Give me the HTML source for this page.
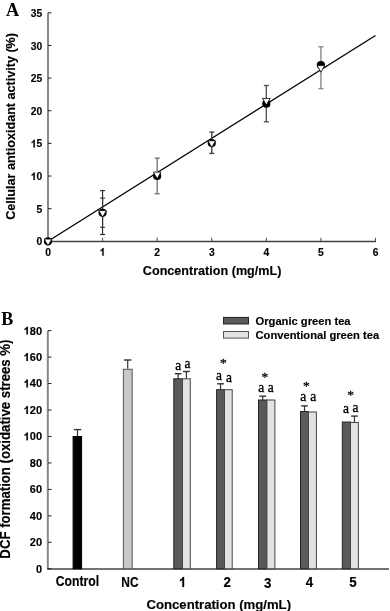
<!DOCTYPE html>
<html><head><meta charset="utf-8"><style>
html,body{margin:0;padding:0;background:#fff;}
body{width:390px;height:611px;overflow:hidden;}
svg{display:block;will-change:transform;}
</style></head><body>
<svg width="390" height="611" viewBox="0 0 390 611">
<rect width="390" height="611" fill="#fff"/>
<text x="5.9" y="15.7" font-family="Liberation Serif" font-size="18.2" font-weight="bold" text-anchor="start" >A</text>
<line x1="48" y1="12.82" x2="48" y2="241.3" stroke="#888" stroke-width="2"/>
<line x1="47" y1="241.5" x2="376.0" y2="241.5" stroke="#444" stroke-width="1.4"/>
<line x1="48" y1="241.30" x2="51.5" y2="241.30" stroke="#222" stroke-width="1"/>
<text transform="translate(36.57,245.40) scale(1.0,1.04)" font-family="Liberation Sans" font-size="10.3" font-weight="bold" stroke="#000" stroke-width="0.15">0</text>
<line x1="48" y1="208.66" x2="51.5" y2="208.66" stroke="#222" stroke-width="1"/>
<text transform="translate(36.57,212.76) scale(1.0,1.04)" font-family="Liberation Sans" font-size="10.3" font-weight="bold" stroke="#000" stroke-width="0.15">5</text>
<line x1="48" y1="176.02" x2="51.5" y2="176.02" stroke="#222" stroke-width="1"/>
<path transform="translate(30.84,180.12) scale(0.00503,-0.00523)" d="M787 0L512 0L512 1036C412 942 294 872 156 828L156 1077C229 1101 307 1146 391 1212C475 1278 532 1363 562 1466L787 1466Z" stroke="#000" stroke-width="29.8"/>
<text transform="translate(36.57,180.12) scale(1.0,1.04)" font-family="Liberation Sans" font-size="10.3" font-weight="bold" stroke="#000" stroke-width="0.15">0</text>
<line x1="48" y1="143.38" x2="51.5" y2="143.38" stroke="#222" stroke-width="1"/>
<path transform="translate(30.84,147.48) scale(0.00503,-0.00523)" d="M787 0L512 0L512 1036C412 942 294 872 156 828L156 1077C229 1101 307 1146 391 1212C475 1278 532 1363 562 1466L787 1466Z" stroke="#000" stroke-width="29.8"/>
<text transform="translate(36.57,147.48) scale(1.0,1.04)" font-family="Liberation Sans" font-size="10.3" font-weight="bold" stroke="#000" stroke-width="0.15">5</text>
<line x1="48" y1="110.74" x2="51.5" y2="110.74" stroke="#222" stroke-width="1"/>
<text transform="translate(30.84,114.84) scale(1.0,1.04)" font-family="Liberation Sans" font-size="10.3" font-weight="bold" stroke="#000" stroke-width="0.15">2</text>
<text transform="translate(36.57,114.84) scale(1.0,1.04)" font-family="Liberation Sans" font-size="10.3" font-weight="bold" stroke="#000" stroke-width="0.15">0</text>
<line x1="48" y1="78.10" x2="51.5" y2="78.10" stroke="#222" stroke-width="1"/>
<text transform="translate(30.84,82.20) scale(1.0,1.04)" font-family="Liberation Sans" font-size="10.3" font-weight="bold" stroke="#000" stroke-width="0.15">2</text>
<text transform="translate(36.57,82.20) scale(1.0,1.04)" font-family="Liberation Sans" font-size="10.3" font-weight="bold" stroke="#000" stroke-width="0.15">5</text>
<line x1="48" y1="45.46" x2="51.5" y2="45.46" stroke="#222" stroke-width="1"/>
<text transform="translate(30.84,49.56) scale(1.0,1.04)" font-family="Liberation Sans" font-size="10.3" font-weight="bold" stroke="#000" stroke-width="0.15">3</text>
<text transform="translate(36.57,49.56) scale(1.0,1.04)" font-family="Liberation Sans" font-size="10.3" font-weight="bold" stroke="#000" stroke-width="0.15">0</text>
<line x1="48" y1="12.82" x2="51.5" y2="12.82" stroke="#222" stroke-width="1"/>
<text transform="translate(30.84,16.92) scale(1.0,1.04)" font-family="Liberation Sans" font-size="10.3" font-weight="bold" stroke="#000" stroke-width="0.15">3</text>
<text transform="translate(36.57,16.92) scale(1.0,1.04)" font-family="Liberation Sans" font-size="10.3" font-weight="bold" stroke="#000" stroke-width="0.15">5</text>
<line x1="48.00" y1="241" x2="48.00" y2="237.8" stroke="#555" stroke-width="1.1"/>
<text transform="translate(45.14,255.7) scale(1.0,1.04)" font-family="Liberation Sans" font-size="10.3" font-weight="bold" stroke="#000" stroke-width="0.15">0</text>
<line x1="102.58" y1="241" x2="102.58" y2="237.8" stroke="#555" stroke-width="1.1"/>
<path transform="translate(99.72,255.7) scale(0.00503,-0.00523)" d="M787 0L512 0L512 1036C412 942 294 872 156 828L156 1077C229 1101 307 1146 391 1212C475 1278 532 1363 562 1466L787 1466Z" stroke="#000" stroke-width="29.8"/>
<line x1="157.17" y1="241" x2="157.17" y2="237.8" stroke="#555" stroke-width="1.1"/>
<text transform="translate(154.30,255.7) scale(1.0,1.04)" font-family="Liberation Sans" font-size="10.3" font-weight="bold" stroke="#000" stroke-width="0.15">2</text>
<line x1="211.75" y1="241" x2="211.75" y2="237.8" stroke="#555" stroke-width="1.1"/>
<text transform="translate(208.89,255.7) scale(1.0,1.04)" font-family="Liberation Sans" font-size="10.3" font-weight="bold" stroke="#000" stroke-width="0.15">3</text>
<line x1="266.33" y1="241" x2="266.33" y2="237.8" stroke="#555" stroke-width="1.1"/>
<text transform="translate(263.47,255.7) scale(1.0,1.04)" font-family="Liberation Sans" font-size="10.3" font-weight="bold" stroke="#000" stroke-width="0.15">4</text>
<line x1="320.92" y1="241" x2="320.92" y2="237.8" stroke="#555" stroke-width="1.1"/>
<text transform="translate(318.05,255.7) scale(1.0,1.04)" font-family="Liberation Sans" font-size="10.3" font-weight="bold" stroke="#000" stroke-width="0.15">5</text>
<line x1="375.50" y1="241" x2="375.50" y2="237.8" stroke="#555" stroke-width="1.1"/>
<text transform="translate(372.64,255.7) scale(1.0,1.04)" font-family="Liberation Sans" font-size="10.3" font-weight="bold" stroke="#000" stroke-width="0.15">6</text>
<text transform="translate(212.1,275.1) scale(1.0,1.04)" font-family="Liberation Sans" font-size="12.6" font-weight="bold" text-anchor="middle" stroke="#000" stroke-width="0.15">Concentration (mg/mL)</text>
<text transform="translate(14.6,126.4) rotate(-90) scale(1.0,1.04)" font-family="Liberation Sans" font-size="12.6" font-weight="bold" text-anchor="middle" stroke="#000" stroke-width="0.15">Cellular antioxidant activity (%)</text>
<line x1="48" y1="241.3" x2="375.5" y2="35.5" stroke="#000" stroke-width="1.3"/>
<line x1="102.58" y1="190.6" x2="102.58" y2="234.5" stroke="#222" stroke-width="1.1"/>
<line x1="100.08" y1="190.6" x2="105.08" y2="190.6" stroke="#222" stroke-width="1.1"/>
<line x1="100.08" y1="234.5" x2="105.08" y2="234.5" stroke="#222" stroke-width="1.1"/>
<line x1="102.58" y1="198.1" x2="102.58" y2="227.3" stroke="#333" stroke-width="1.1"/>
<line x1="100.08" y1="198.1" x2="105.08" y2="198.1" stroke="#333" stroke-width="1.1"/>
<line x1="100.08" y1="227.3" x2="105.08" y2="227.3" stroke="#333" stroke-width="1.1"/>
<line x1="157.17" y1="158.1" x2="157.17" y2="193.7" stroke="#777" stroke-width="1.4"/>
<line x1="154.67" y1="158.1" x2="159.67" y2="158.1" stroke="#777" stroke-width="1.4"/>
<line x1="154.67" y1="193.7" x2="159.67" y2="193.7" stroke="#777" stroke-width="1.4"/>
<line x1="211.75" y1="132.1" x2="211.75" y2="153.4" stroke="#444" stroke-width="1.4"/>
<line x1="209.25" y1="132.1" x2="214.25" y2="132.1" stroke="#444" stroke-width="1.4"/>
<line x1="209.25" y1="153.4" x2="214.25" y2="153.4" stroke="#444" stroke-width="1.4"/>
<line x1="266.33" y1="85.5" x2="266.33" y2="121.8" stroke="#555" stroke-width="1.4"/>
<line x1="263.83" y1="85.5" x2="268.83" y2="85.5" stroke="#555" stroke-width="1.4"/>
<line x1="263.83" y1="121.8" x2="268.83" y2="121.8" stroke="#555" stroke-width="1.4"/>
<line x1="320.92" y1="46.8" x2="320.92" y2="88.6" stroke="#888" stroke-width="1.4"/>
<line x1="318.42" y1="46.8" x2="323.42" y2="46.8" stroke="#888" stroke-width="1.4"/>
<line x1="318.42" y1="88.6" x2="323.42" y2="88.6" stroke="#888" stroke-width="1.4"/>
<circle cx="48.00" cy="241.3" r="4.1" fill="#000"/>
<polygon points="44.19,239.10 51.81,239.10 48.00,245.70" fill="#fff" stroke="#000" stroke-width="0.8"/>
<circle cx="102.58" cy="212.8" r="4.1" fill="#000"/>
<polygon points="98.77,210.60 106.39,210.60 102.58,217.20" fill="#fff" stroke="#000" stroke-width="0.8"/>
<circle cx="157.17" cy="176.0" r="4.1" fill="#000"/>
<polygon points="153.36,172.10 160.98,172.10 157.17,178.70" fill="#fff" stroke="#000" stroke-width="0.8"/>
<circle cx="211.75" cy="143.0" r="4.1" fill="#000"/>
<polygon points="207.94,140.80 215.56,140.80 211.75,147.40" fill="#fff" stroke="#000" stroke-width="0.8"/>
<circle cx="266.33" cy="103.7" r="4.1" fill="#000"/>
<polygon points="262.52,98.40 270.14,98.40 266.33,105.00" fill="#fff" stroke="#000" stroke-width="0.8"/>
<circle cx="320.92" cy="65.0" r="4.1" fill="#000"/>
<polygon points="317.11,65.60 324.73,65.60 320.92,72.20" fill="#fff" stroke="#000" stroke-width="0.8"/>
<text x="1.3" y="325.3" font-family="Liberation Serif" font-size="18.0" font-weight="bold" text-anchor="start" >B</text>
<line x1="47.8" y1="330.61" x2="47.8" y2="568.8" stroke="#888" stroke-width="2"/>
<line x1="47" y1="569" x2="389" y2="569" stroke="#444" stroke-width="1.5"/>
<line x1="48" y1="568.80" x2="51.5" y2="568.80" stroke="#222" stroke-width="1"/>
<text transform="translate(35.88,572.70) scale(1.0,1.0)" font-family="Liberation Sans" font-size="11" font-weight="bold" stroke="#000" stroke-width="0.15">0</text>
<line x1="48" y1="542.33" x2="51.5" y2="542.33" stroke="#222" stroke-width="1"/>
<text transform="translate(29.76,546.23) scale(1.0,1.0)" font-family="Liberation Sans" font-size="11" font-weight="bold" stroke="#000" stroke-width="0.15">2</text>
<text transform="translate(35.88,546.23) scale(1.0,1.0)" font-family="Liberation Sans" font-size="11" font-weight="bold" stroke="#000" stroke-width="0.15">0</text>
<line x1="48" y1="515.87" x2="51.5" y2="515.87" stroke="#222" stroke-width="1"/>
<text transform="translate(29.76,519.77) scale(1.0,1.0)" font-family="Liberation Sans" font-size="11" font-weight="bold" stroke="#000" stroke-width="0.15">4</text>
<text transform="translate(35.88,519.77) scale(1.0,1.0)" font-family="Liberation Sans" font-size="11" font-weight="bold" stroke="#000" stroke-width="0.15">0</text>
<line x1="48" y1="489.40" x2="51.5" y2="489.40" stroke="#222" stroke-width="1"/>
<text transform="translate(29.76,493.30) scale(1.0,1.0)" font-family="Liberation Sans" font-size="11" font-weight="bold" stroke="#000" stroke-width="0.15">6</text>
<text transform="translate(35.88,493.30) scale(1.0,1.0)" font-family="Liberation Sans" font-size="11" font-weight="bold" stroke="#000" stroke-width="0.15">0</text>
<line x1="48" y1="462.94" x2="51.5" y2="462.94" stroke="#222" stroke-width="1"/>
<text transform="translate(29.76,466.84) scale(1.0,1.0)" font-family="Liberation Sans" font-size="11" font-weight="bold" stroke="#000" stroke-width="0.15">8</text>
<text transform="translate(35.88,466.84) scale(1.0,1.0)" font-family="Liberation Sans" font-size="11" font-weight="bold" stroke="#000" stroke-width="0.15">0</text>
<line x1="48" y1="436.47" x2="51.5" y2="436.47" stroke="#222" stroke-width="1"/>
<path transform="translate(23.65,440.37) scale(0.00537,-0.00537)" d="M787 0L512 0L512 1036C412 942 294 872 156 828L156 1077C229 1101 307 1146 391 1212C475 1278 532 1363 562 1466L787 1466Z" stroke="#000" stroke-width="27.9"/>
<text transform="translate(29.76,440.37) scale(1.0,1.0)" font-family="Liberation Sans" font-size="11" font-weight="bold" stroke="#000" stroke-width="0.15">0</text>
<text transform="translate(35.88,440.37) scale(1.0,1.0)" font-family="Liberation Sans" font-size="11" font-weight="bold" stroke="#000" stroke-width="0.15">0</text>
<line x1="48" y1="410.00" x2="51.5" y2="410.00" stroke="#222" stroke-width="1"/>
<path transform="translate(23.65,413.90) scale(0.00537,-0.00537)" d="M787 0L512 0L512 1036C412 942 294 872 156 828L156 1077C229 1101 307 1146 391 1212C475 1278 532 1363 562 1466L787 1466Z" stroke="#000" stroke-width="27.9"/>
<text transform="translate(29.76,413.90) scale(1.0,1.0)" font-family="Liberation Sans" font-size="11" font-weight="bold" stroke="#000" stroke-width="0.15">2</text>
<text transform="translate(35.88,413.90) scale(1.0,1.0)" font-family="Liberation Sans" font-size="11" font-weight="bold" stroke="#000" stroke-width="0.15">0</text>
<line x1="48" y1="383.54" x2="51.5" y2="383.54" stroke="#222" stroke-width="1"/>
<path transform="translate(23.65,387.44) scale(0.00537,-0.00537)" d="M787 0L512 0L512 1036C412 942 294 872 156 828L156 1077C229 1101 307 1146 391 1212C475 1278 532 1363 562 1466L787 1466Z" stroke="#000" stroke-width="27.9"/>
<text transform="translate(29.76,387.44) scale(1.0,1.0)" font-family="Liberation Sans" font-size="11" font-weight="bold" stroke="#000" stroke-width="0.15">4</text>
<text transform="translate(35.88,387.44) scale(1.0,1.0)" font-family="Liberation Sans" font-size="11" font-weight="bold" stroke="#000" stroke-width="0.15">0</text>
<line x1="48" y1="357.07" x2="51.5" y2="357.07" stroke="#222" stroke-width="1"/>
<path transform="translate(23.65,360.97) scale(0.00537,-0.00537)" d="M787 0L512 0L512 1036C412 942 294 872 156 828L156 1077C229 1101 307 1146 391 1212C475 1278 532 1363 562 1466L787 1466Z" stroke="#000" stroke-width="27.9"/>
<text transform="translate(29.76,360.97) scale(1.0,1.0)" font-family="Liberation Sans" font-size="11" font-weight="bold" stroke="#000" stroke-width="0.15">6</text>
<text transform="translate(35.88,360.97) scale(1.0,1.0)" font-family="Liberation Sans" font-size="11" font-weight="bold" stroke="#000" stroke-width="0.15">0</text>
<line x1="48" y1="330.61" x2="51.5" y2="330.61" stroke="#222" stroke-width="1"/>
<path transform="translate(23.65,334.51) scale(0.00537,-0.00537)" d="M787 0L512 0L512 1036C412 942 294 872 156 828L156 1077C229 1101 307 1146 391 1212C475 1278 532 1363 562 1466L787 1466Z" stroke="#000" stroke-width="27.9"/>
<text transform="translate(29.76,334.51) scale(1.0,1.0)" font-family="Liberation Sans" font-size="11" font-weight="bold" stroke="#000" stroke-width="0.15">8</text>
<text transform="translate(35.88,334.51) scale(1.0,1.0)" font-family="Liberation Sans" font-size="11" font-weight="bold" stroke="#000" stroke-width="0.15">0</text>
<text transform="translate(9.5,449.1) rotate(-90) scale(1.0,1.04)" font-family="Liberation Sans" font-size="13.2" font-weight="bold" text-anchor="middle" stroke="#000" stroke-width="0.15">DCF formation (oxidative strees %)</text>
<text transform="translate(218.75,608.6) scale(1.0,1.04)" font-family="Liberation Sans" font-size="13.15" font-weight="bold" text-anchor="middle" stroke="#000" stroke-width="0.15">Concentration (mg/mL)</text>
<text transform="translate(77.5,585.6) scale(0.92,1.04)" font-family="Liberation Sans" font-size="13.3" font-weight="bold" text-anchor="middle" stroke="#000" stroke-width="0.15">Control</text>
<text transform="translate(129.9,587) scale(0.9,1.04)" font-family="Liberation Sans" font-size="13.3" font-weight="bold" text-anchor="middle" stroke="#000" stroke-width="0.15">NC</text>
<path transform="translate(179.00,586.9) scale(0.00649,-0.00675)" d="M787 0L512 0L512 1036C412 942 294 872 156 828L156 1077C229 1101 307 1146 391 1212C475 1278 532 1363 562 1466L787 1466Z" stroke="#000" stroke-width="23.1"/>
<text transform="translate(223.40,586.9) scale(1.0,1.04)" font-family="Liberation Sans" font-size="13.3" font-weight="bold" stroke="#000" stroke-width="0.15">2</text>
<text transform="translate(264.00,587.8) scale(1.0,1.04)" font-family="Liberation Sans" font-size="13.3" font-weight="bold" stroke="#000" stroke-width="0.15">3</text>
<text transform="translate(305.70,586.9) scale(1.0,1.04)" font-family="Liberation Sans" font-size="13.3" font-weight="bold" stroke="#000" stroke-width="0.15">4</text>
<text transform="translate(349.20,587.4) scale(1.0,1.04)" font-family="Liberation Sans" font-size="13.3" font-weight="bold" stroke="#000" stroke-width="0.15">5</text>
<line x1="77.50" y1="436" x2="77.50" y2="429.6" stroke="#333" stroke-width="1.2"/>
<line x1="73.80" y1="429.6" x2="81.20" y2="429.6" stroke="#333" stroke-width="1.4"/>
<rect x="73.10" y="436.50" width="8.50" height="132.30" fill="#000" stroke="#000" stroke-width="1"/>
<line x1="127.70" y1="368.8" x2="127.70" y2="360" stroke="#333" stroke-width="1.2"/>
<line x1="124.00" y1="360" x2="131.40" y2="360" stroke="#333" stroke-width="1.4"/>
<rect x="123.40" y="369.30" width="8.80" height="199.50" fill="#c8c8c8" stroke="#555" stroke-width="1"/>
<line x1="178.15" y1="378.8" x2="178.15" y2="373.7" stroke="#333" stroke-width="1.2"/>
<line x1="174.75" y1="373.7" x2="181.55" y2="373.7" stroke="#333" stroke-width="1.4"/>
<line x1="186.40" y1="378.8" x2="186.40" y2="371.5" stroke="#333" stroke-width="1.2"/>
<line x1="183.00" y1="371.5" x2="189.80" y2="371.5" stroke="#333" stroke-width="1.4"/>
<rect x="173.80" y="378.80" width="8.70" height="190.00" fill="#5a5a5a" stroke="#222" stroke-width="1"/>
<rect x="182.50" y="378.80" width="7.80" height="190.00" fill="#e2e2e2" stroke="#444" stroke-width="1"/>
<line x1="220.55" y1="389.7" x2="220.55" y2="383.8" stroke="#333" stroke-width="1.2"/>
<line x1="217.15" y1="383.8" x2="223.95" y2="383.8" stroke="#333" stroke-width="1.4"/>
<rect x="216.60" y="389.70" width="7.90" height="179.10" fill="#5a5a5a" stroke="#222" stroke-width="1"/>
<rect x="224.50" y="389.70" width="7.70" height="179.10" fill="#e2e2e2" stroke="#444" stroke-width="1"/>
<line x1="262.70" y1="400.0" x2="262.70" y2="396.2" stroke="#333" stroke-width="1.2"/>
<line x1="259.30" y1="396.2" x2="266.10" y2="396.2" stroke="#333" stroke-width="1.4"/>
<rect x="258.50" y="400.00" width="8.40" height="168.80" fill="#5a5a5a" stroke="#222" stroke-width="1"/>
<rect x="266.90" y="400.00" width="8.00" height="168.80" fill="#e2e2e2" stroke="#444" stroke-width="1"/>
<line x1="304.50" y1="411.5" x2="304.50" y2="405.9" stroke="#333" stroke-width="1.2"/>
<line x1="301.10" y1="405.9" x2="307.90" y2="405.9" stroke="#333" stroke-width="1.4"/>
<rect x="300.50" y="411.50" width="8.00" height="157.30" fill="#5a5a5a" stroke="#222" stroke-width="1"/>
<rect x="308.50" y="412.00" width="7.90" height="156.80" fill="#e2e2e2" stroke="#444" stroke-width="1"/>
<line x1="354.45" y1="422.5" x2="354.45" y2="416.1" stroke="#333" stroke-width="1.2"/>
<line x1="351.05" y1="416.1" x2="357.85" y2="416.1" stroke="#333" stroke-width="1.4"/>
<rect x="342.30" y="422.00" width="8.20" height="146.80" fill="#5a5a5a" stroke="#222" stroke-width="1"/>
<rect x="350.50" y="422.50" width="7.90" height="146.30" fill="#e2e2e2" stroke="#444" stroke-width="1"/>
<text transform="translate(178.3,369.90000000000003) scale(1,1.1)" font-family="Liberation Serif" font-size="13.5" text-anchor="middle" stroke="#000" stroke-width="0.3">a</text>
<text transform="translate(187.6,368.0) scale(1,1.1)" font-family="Liberation Serif" font-size="13.5" text-anchor="middle" stroke="#000" stroke-width="0.3">a</text>
<text transform="translate(219.1,380.0) scale(1,1.1)" font-family="Liberation Serif" font-size="13.5" text-anchor="middle" stroke="#000" stroke-width="0.3">a</text>
<text transform="translate(229.1,381.6) scale(1,1.1)" font-family="Liberation Serif" font-size="13.5" text-anchor="middle" stroke="#000" stroke-width="0.3">a</text>
<text transform="translate(261.2,391.90000000000003) scale(1,1.1)" font-family="Liberation Serif" font-size="13.5" text-anchor="middle" stroke="#000" stroke-width="0.3">a</text>
<text transform="translate(270.85,391.90000000000003) scale(1,1.1)" font-family="Liberation Serif" font-size="13.5" text-anchor="middle" stroke="#000" stroke-width="0.3">a</text>
<text transform="translate(303.35,401.3) scale(1,1.1)" font-family="Liberation Serif" font-size="13.5" text-anchor="middle" stroke="#000" stroke-width="0.3">a</text>
<text transform="translate(313.35,401.3) scale(1,1.1)" font-family="Liberation Serif" font-size="13.5" text-anchor="middle" stroke="#000" stroke-width="0.3">a</text>
<text transform="translate(345.9,413.3) scale(1,1.1)" font-family="Liberation Serif" font-size="13.5" text-anchor="middle" stroke="#000" stroke-width="0.3">a</text>
<text transform="translate(355.5,411.90000000000003) scale(1,1.1)" font-family="Liberation Serif" font-size="13.5" text-anchor="middle" stroke="#000" stroke-width="0.3">a</text>
<text x="223.35" y="367.29999999999995" font-family="Liberation Serif" font-size="13.5" text-anchor="middle" stroke="#000" stroke-width="0.3">*</text>
<text x="264.9" y="381.4" font-family="Liberation Serif" font-size="13.5" text-anchor="middle" stroke="#000" stroke-width="0.3">*</text>
<text x="306.3" y="389.79999999999995" font-family="Liberation Serif" font-size="13.5" text-anchor="middle" stroke="#000" stroke-width="0.3">*</text>
<text x="350.5" y="398.79999999999995" font-family="Liberation Serif" font-size="13.5" text-anchor="middle" stroke="#000" stroke-width="0.3">*</text>
<rect x="223.5" y="317.4" width="25" height="6.6" fill="#5a5a5a" stroke="#222" stroke-width="1"/>
<rect x="223.5" y="331.5" width="25" height="6.6" fill="#e2e2e2" stroke="#555" stroke-width="1"/>
<text transform="translate(255.5,324.8) scale(1.0,1.04)" font-family="Liberation Sans" font-size="11.2" font-weight="bold" text-anchor="start" stroke="#000" stroke-width="0.15">Organic green tea</text>
<text transform="translate(255.5,339.0) scale(1.0,1.04)" font-family="Liberation Sans" font-size="11.2" font-weight="bold" text-anchor="start" stroke="#000" stroke-width="0.15">Conventional green tea</text>
</svg>
</body></html>
